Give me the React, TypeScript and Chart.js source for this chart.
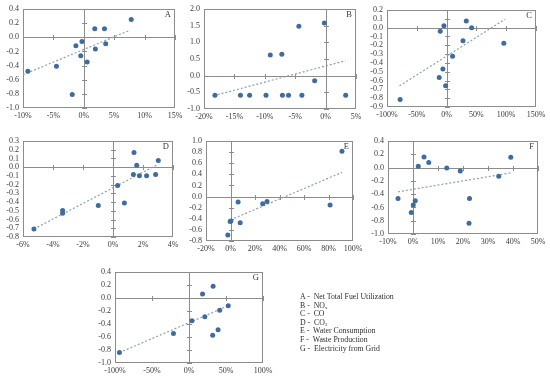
import React, { useEffect, useRef } from "react";
import { Chart, registerables } from "chart.js";
Chart.register(...registerables);

// ---- data (x in %, y index values) ----
const aX = [-9.2, -4.5, -1.9, -1.3, -0.5, -0.3, 0.55, 1.8, 1.9, 3.4, 3.6, 7.8];
const aY = [-0.48, -0.41, -0.81, -0.12, -0.26, -0.06, -0.35, 0.12, -0.165, 0.12, -0.09, 0.25];
const aTrendX = [-10, 7.6];
const aTrendY = [-0.53, 0.1];

const bX = [-18.2, -14.0, -12.5, -9.8, -9.1, -7.2, -7.1, -6.1, -4.4, -3.9, -1.8, -0.2, 3.3];
const bY = [-0.59, -0.59, -0.59, -0.59, 0.62, 0.64, -0.59, -0.59, 1.48, -0.59, -0.15, 1.58, -0.59];
const bTrendX = [-18.4, 3.3];
const bTrendY = [-0.6, 0.45];

const cX = [-78, -12.4, -10.7, -6.2, -4.5, -1.7, 10, 27.5, 33, 42, 96];
const cY = [-0.815, -0.566, -0.04, -0.47, 0.02, -0.66, -0.325, -0.15, 0.075, 0.0, -0.177];
const cTrendX = [-79, 98];
const cTrendY = [-0.66, 0.095];

const dX = [-5.27, -3.36, -3.36, -0.98, 0.31, 0.76, 1.36, 1.4, 1.58, 1.76, 2.24, 2.84, 3.02];
const dY = [-0.708, -0.496, -0.527, -0.44, -0.21, -0.41, -0.083, 0.167, 0.023, -0.098, -0.098, -0.083, 0.076];
const dTrendX = [-5.27, 3.02];
const dTrendY = [-0.708, 0.034];

const eX = [-2.2, -0.3, 0.3, 6.2, 7.9, 26.3, 29.8, 81.3, 91];
const eY = [-0.69, -0.45, -0.44, -0.1, -0.47, -0.13, -0.09, -0.15, 0.815];
const eTrendX = [0, 91];
const eTrendY = [-0.42, 0.435];

const fX = [-6.0, -0.7, 0.1, 0.9, 2.1, 4.4, 6.3, 13.5, 18.9, 22.4, 22.6, 34.3, 39.1];
const fY = [-0.465, -0.675, -0.565, -0.5, 0.02, 0.16, 0.075, -0.005, -0.05, -0.84, -0.465, -0.13, 0.155];
const fTrendX = [-6, 39.1];
const fTrendY = [-0.365, -0.08];

const gX = [-94, -21, 4, 18.3, 21.4, 32, 32.6, 39.3, 41.5, 53];
const gY = [-0.84, -0.546, -0.35, 0.06, -0.29, -0.573, 0.18, -0.49, -0.19, -0.12];
const gTrendX = [-94, 53];
const gTrendY = [-0.84, -0.12];

// axis ranges: [min, max, step]
const aXRange = [-10, 15, 5];
const aYRange = [-1.0, 0.4, 0.2];
const bXRange = [-20, 5, 5];
const bYRange = [-1.0, 2.0, 0.5];
const cXRange = [-100, 150, 50];
const cYRange = [-0.9, 0.2, 0.1];
const dXRange = [-6, 4, 2];
const dYRange = [-0.8, 0.3, 0.1];
const eXRange = [-20, 100, 20];
const eYRange = [-0.8, 1.0, 0.2];
const fXRange = [-10, 50, 10];
const fYRange = [-1.0, 0.4, 0.2];
const gXRange = [-100, 100, 50];
const gYRange = [-1.0, 0.4, 0.2];

const legendLetters = ["A", "B", "C", "D", "E", "F", "G"];
const legendNames = [
  "Net Total Fuel Utilization",
  "NO|x",
  "CO",
  "CO|2",
  "Water Consumption",
  "Waste Production",
  "Electricity from Grid",
];

const FONT = '"Liberation Serif", "Times New Roman", serif';
const POINT_COLOR = "#3f6c9e";
const TREND_COLOR = "#8aa0b4";
const AXIS_COLOR = "#8c8c8c";
const TEXT_COLOR = "#3a3a3a";

const excelAxes = {
  id: "excelAxes",
  beforeDatasetsDraw(chart: any) {
    const { ctx, chartArea: ca, scales } = chart;
    const xs = scales.x;
    const ys = scales.y;
    ctx.save();
    ctx.strokeStyle = AXIS_COLOR;
    ctx.lineWidth = 1;
    const L = Math.round(ca.left) + 0.5;
    const R = Math.round(ca.right) - 0.5;
    const T = Math.round(ca.top) + 0.5;
    const B = Math.round(ca.bottom) - 0.5;
    ctx.strokeRect(L, T, R - L, B - T);
    const x0 = Math.round(xs.getPixelForValue(0)) + 0.5;
    const y0 = Math.round(ys.getPixelForValue(0)) + 0.5;
    ctx.beginPath();
    ctx.moveTo(L, y0);
    ctx.lineTo(R, y0);
    ctx.moveTo(x0, T);
    ctx.lineTo(x0, B);
    xs.ticks.forEach((t: any) => {
      const px = Math.round(xs.getPixelForValue(t.value)) + 0.5;
      ctx.moveTo(px, y0 - 2.5);
      ctx.lineTo(px, y0 + 2.5);
    });
    ys.ticks.forEach((t: any) => {
      const py = Math.round(ys.getPixelForValue(t.value)) + 0.5;
      ctx.moveTo(x0 - 2.5, py);
      ctx.lineTo(x0 + 2.5, py);
    });
    ctx.stroke();
    ctx.restore();
  },
  afterDatasetsDraw(chart: any, _args: any, opts: any) {
    const { ctx, chartArea: ca } = chart;
    ctx.save();
    ctx.fillStyle = TEXT_COLOR;
    ctx.font = `8.5px ${FONT}`;
    ctx.textAlign = "right";
    ctx.textBaseline = "top";
    ctx.fillText(opts.letter || "", ca.right - 4, ca.top + 2);
    ctx.restore();
  },
};

type PanelProps = {
  letter: string;
  xs: number[];
  ys: number[];
  tx: number[];
  ty: number[];
  xr: number[];
  yr: number[];
  L: number;
  R: number;
  T: number;
  B: number;
};

const YW = 23;
const XH = 16;
const PT = 7;
const PR = 10;

function Panel(p: PanelProps) {
  const ref = useRef<HTMLCanvasElement>(null);
  const w = p.R - p.L + YW + PR;
  const h = p.B - p.T + PT + XH;
  useEffect(() => {
    if (!ref.current) return;
    const chart = new Chart(ref.current, {
      type: "scatter",
      data: {
        datasets: [
          {
            data: p.xs.map((x, i) => ({ x, y: p.ys[i] })),
            pointRadius: 2.5,
            pointBackgroundColor: POINT_COLOR,
            pointBorderColor: POINT_COLOR,
            pointBorderWidth: 0,
            showLine: false,
            order: 1,
          },
          {
            data: p.tx.map((x, i) => ({ x, y: p.ty[i] })),
            showLine: true,
            pointRadius: 0,
            borderColor: TREND_COLOR,
            borderWidth: 1.2,
            borderDash: [2, 2],
            order: 2,
          },
        ],
      },
      options: {
        responsive: false,
        animation: false,
        events: [],
        layout: { padding: { top: PT, right: PR, left: 0, bottom: 0 } },
        plugins: {
          legend: { display: false },
          tooltip: { enabled: false },
          excelAxes: { letter: p.letter },
        } as any,
        scales: {
          x: {
            type: "linear",
            min: p.xr[0],
            max: p.xr[1],
            grid: { display: false, drawTicks: false },
            border: { display: false },
            ticks: {
              stepSize: p.xr[2],
              autoSkip: false,
              maxRotation: 0,
              padding: 3,
              color: TEXT_COLOR,
              font: { family: FONT, size: 8 },
              callback: (v: any) => `${Math.round(Number(v))}%`,
            },
            afterFit: (s: any) => {
              s.height = XH;
              s.paddingLeft = 0;
              s.paddingRight = 0;
            },
          },
          y: {
            type: "linear",
            min: p.yr[0],
            max: p.yr[1],
            grid: { display: false, drawTicks: false },
            border: { display: false },
            ticks: {
              stepSize: p.yr[2],
              autoSkip: false,
              padding: 4,
              color: TEXT_COLOR,
              font: { family: FONT, size: 8 },
              callback: (v: any) => {
                const n = Number(v);
                return Math.abs(n) < 1e-9 ? "0.0" : n.toFixed(1);
              },
            },
            afterFit: (s: any) => {
              s.width = YW;
              s.paddingTop = 0;
              s.paddingBottom = 0;
            },
          },
        },
      },
      plugins: [excelAxes as any],
    });
    return () => chart.destroy();
  }, []);
  return (
    <canvas
      ref={ref}
      width={w}
      height={h}
      style={{
        position: "absolute",
        left: p.L - YW,
        top: p.T - PT,
        width: w,
        height: h,
      }}
    />
  );
}

export default function App() {
  return (
    <div
      style={{
        position: "absolute",
        left: 0,
        top: 0,
        width: 550,
        height: 388,
        background: "#fff",
        overflow: "hidden",
      }}
    >
      <Panel letter="A" xs={aX} ys={aY} tx={aTrendX} ty={aTrendY} xr={aXRange} yr={aYRange} L={23} R={175} T={9} B={108} />
      <Panel letter="B" xs={bX} ys={bY} tx={bTrendX} ty={bTrendY} xr={bXRange} yr={bYRange} L={204} R={356} T={9} B={109} />
      <Panel letter="C" xs={cX} ys={cY} tx={cTrendX} ty={cTrendY} xr={cXRange} yr={cYRange} L={387} R={536} T={10} B={107} />
      <Panel letter="D" xs={dX} ys={dY} tx={dTrendX} ty={dTrendY} xr={dXRange} yr={dYRange} L={23} R={173} T={141} B={237} />
      <Panel letter="E" xs={eX} ys={eY} tx={eTrendX} ty={eTrendY} xr={eXRange} yr={eYRange} L={206} R={353} T={141} B={241} />
      <Panel letter="F" xs={fX} ys={fY} tx={fTrendX} ty={fTrendY} xr={fXRange} yr={fYRange} L={388} R={538} T={141} B={234} />
      <Panel letter="G" xs={gX} ys={gY} tx={gTrendX} ty={gTrendY} xr={gXRange} yr={gYRange} L={115} R={263} T={272} B={363} />
      <div
        style={{
          position: "absolute",
          left: 300,
          top: 293,
          fontFamily: FONT,
          fontSize: 7.8,
          lineHeight: "8.6px",
          color: "#2e2e2e",
          whiteSpace: "pre",
          willChange: "transform",
          background: "#fff",
        }}
      >
        {legendLetters.map((l, i) => {
          const parts = legendNames[i].split("|");
          return (
            <div key={l}>
              {l + " -  "}
              {parts[0]}
              {parts[1] ? (
                <sub style={{ fontSize: 5, verticalAlign: "-1px", lineHeight: 0 }}>{parts[1]}</sub>
              ) : null}
            </div>
          );
        })}
      </div>
    </div>
  );
}
